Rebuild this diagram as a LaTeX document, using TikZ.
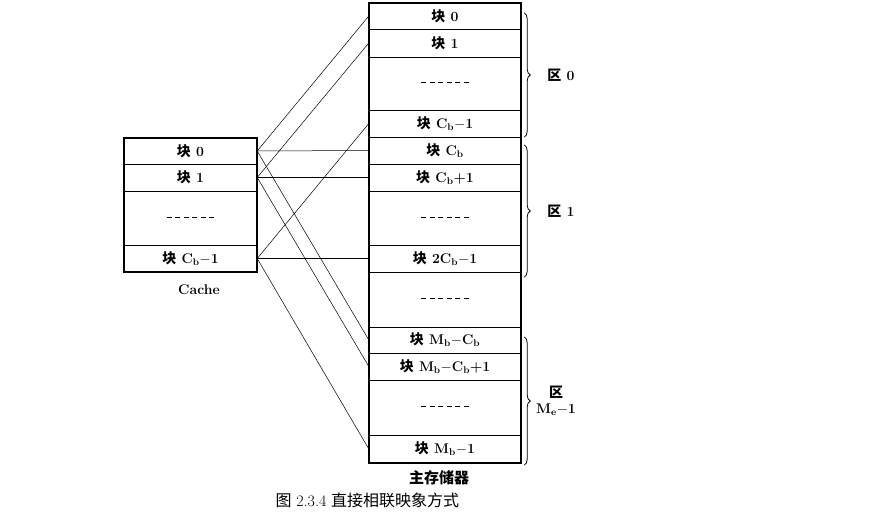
\documentclass[tikz,border=0pt]{standalone}
\usepackage{fontspec}
\newfontfamily\cjk{Noto Sans CJK SC}
\usetikzlibrary{decorations.pathreplacing}
\newcommand{\kuai}{{\cjk 块}\ }
\newcommand{\gapline}{\rule[0.35ex]{5pt}{0.5pt}\foreach \i in {1,...,5}{\hspace{3.5pt}\rule[0.35ex]{5pt}{0.5pt}}}

\begin{document}
\begin{tikzpicture}[x=1pt, y=-1pt, font=\fontsize{14}{16}\selectfont\bfseries,
  mem/.style={draw, thin, minimum width=152pt, inner sep=0pt},
  cache/.style={draw, thin, minimum width=133pt, inner sep=0pt},
  link/.style={line width=0.5pt},
  region/.style={decorate, decoration={brace, amplitude=6pt}, line width=0.8pt}]
\useasboundingbox (0,0) rectangle (892,521);

% Main memory blocks
\node[mem, minimum height=26pt] (m0) at (445,16) {\kuai 0};
\node[mem, minimum height=28pt] (m1) at (445,43) {\kuai 1};
\node[mem, minimum height=53pt] (m2) at (445,83.5) {\gapline};
\node[mem, minimum height=27pt] (m3) at (445,123.5) {\kuai C\textsubscript{b}$-$1};
\node[mem, minimum height=27pt] (m4) at (445,150.5) {\kuai C\textsubscript{b}};
\node[mem, minimum height=27pt] (m5) at (445,177.5) {\kuai C\textsubscript{b}+1};
\node[mem, minimum height=54pt] (m6) at (445,218) {\gapline};
\node[mem, minimum height=27pt] (m7) at (445,258.5) {\kuai 2C\textsubscript{b}$-$1};
\node[mem, minimum height=55pt] (m8) at (445,299.5) {\gapline};
\node[mem, minimum height=26pt] (m9) at (445,340) {\kuai M\textsubscript{b}$-$C\textsubscript{b}};
\node[mem, minimum height=27pt] (m10) at (445,366.5) {\kuai M\textsubscript{b}$-$C\textsubscript{b}+1};
\node[mem, minimum height=55pt] (m11) at (445,407.5) {\gapline};
\node[mem, minimum height=28pt] (m12) at (445,449) {\kuai M\textsubscript{b}$-$1};
\draw[line width=2pt] (m0.north west) rectangle (m12.south east);
\node[font=\fontsize{15}{17}\selectfont\bfseries] (mname) at (439,478) {{\cjk 主存储器}};

% Cache blocks
\node[cache, minimum height=26pt] (c0) at (190.5,151) {\kuai 0};
\node[cache, minimum height=27pt] (c1) at (190.5,177.5) {\kuai 1};
\node[cache, minimum height=54pt] (c2) at (190.5,218) {\gapline};
\node[cache, minimum height=27pt] (c3) at (190.5,258.5) {\kuai C\textsubscript{b}$-$1};
\draw[line width=2pt] (c0.north west) rectangle (c3.south east);
\node (cname) at (199,290) {Cache};

% Cache block 0
\draw[link] (c0.east) -- (m0.west);
\draw[link] (c0.east) -- (m4.west);
\draw[link] (c0.east) -- (m9.west);

% Cache block 1
\draw[link] (c1.east) -- (m1.west);
\draw[link] (c1.east) -- (m5.west);
\draw[link] (c1.east) -- (m10.west);

% Cache block C_b-1
\draw[link] (c3.east) -- (m3.west);
\draw[link] (c3.east) -- (m7.west);
\draw[link] (c3.east) -- (m12.west);

% Regions
\draw[region] ([xshift=3pt,yshift=-10pt]m0.north east) -- ([xshift=3pt]m3.south east);
\draw[region] ([xshift=3pt,yshift=-8pt]m4.north east) -- ([xshift=3pt,yshift=-5pt]m7.south east);
\draw[region] ([xshift=3pt,yshift=-10pt]m9.north east) -- ([xshift=3pt,yshift=-2pt]m12.south east);
\node (r0) at (561,75) {{\cjk 区} 0};
\node (r1) at (561,211) {{\cjk 区} 1};
\node[align=center, inner sep=0pt] (r2) at (556,401) {{\cjk 区}\\M\textsubscript{e}$-$1};

\node[font=\fontsize{16}{18}\selectfont, anchor=west] (title) at (272,500) {{\cjk 图} 2.3.4 {\cjk 直接相联映象方式}};
\end{tikzpicture}
\end{document}
